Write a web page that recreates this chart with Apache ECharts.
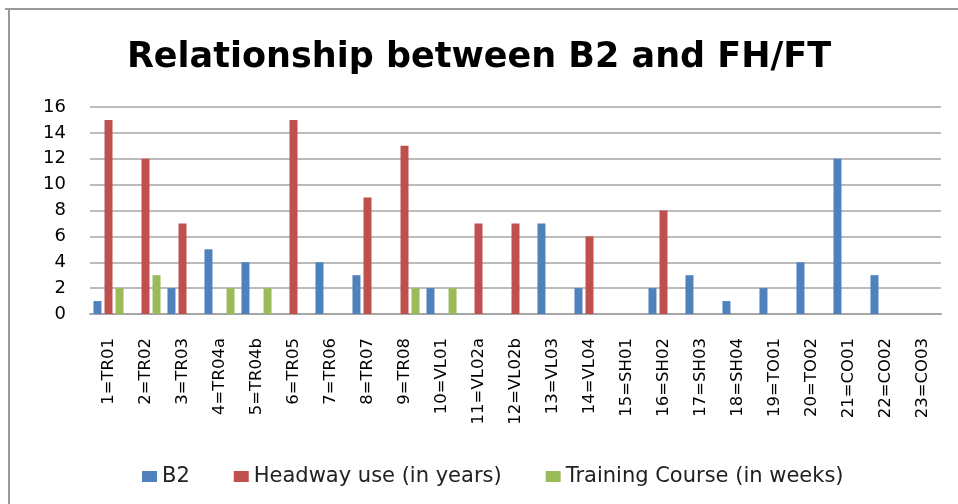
<!DOCTYPE html>
<html>
<head>
    <meta charset="UTF-8"/>
    <script type="text/javascript" src="https://cdn.jsdelivr.net/npm/echarts@6/dist/echarts.min.js"></script>
    <title>Relationship between B2 and FH/FT</title>
    <style>
        html, body { margin: 0; padding: 0; background: #fff; }
        #chart { width: 958px; height: 504px; }
    </style>
</head>
<body>
<div id="chart"></div>

<script type="application/javascript">
    var categories = ['1=TR01', '2=TR02', '3=TR03', '4=TR04a', '5=TR04b', '6=TR05', '7=TR06', '8=TR07',
        '9=TR08', '10=VL01', '11=VL02a', '12=VL02b', '13=VL03', '14=VL04', '15=SH01', '16=SH02',
        '17=SH03', '18=SH04', '19=TO01', '20=TO02', '21=CO01', '22=CO02', '23=CO03'];
    var b2 =       [1, 0, 2, 5, 4, 0, 4, 3, 0, 2, 0, 0, 7, 2, 0, 2, 3, 1, 2, 4, 12, 3, 0];
    var headway =  [15, 12, 7, 0, 0, 15, 0, 9, 13, 0, 7, 7, 0, 6, 0, 8, 0, 0, 0, 0, 0, 0, 0];
    var training = [2, 3, 0, 2, 2, 0, 0, 0, 2, 2, 0, 0, 0, 0, 0, 0, 0, 0, 0, 0, 0, 0, 0];
    var yTicks = [0, 2, 4, 6, 8, 10, 12, 14, 16];

    function initChart() {
        var myChart = echarts.init(document.getElementById('chart'));
        var option = {
            backgroundColor: '#fff',
            animation: false,
            title: {
                text: 'Relationship between B2 and FH/FT',
                left: 'center',
                top: 35,
                textStyle: {
                    fontFamily: 'DejaVu Sans',
                    fontWeight: 'bold',
                    fontSize: 35,
                    color: '#000'
                }
            },
            legend: {
                left: 137,
                top: 461,
                itemWidth: 15,
                itemHeight: 11,
                itemGap: 44,
                icon: 'rect',
                textStyle: {
                    fontFamily: 'DejaVu Sans',
                    fontSize: 21,
                    color: '#222'
                },
                data: ['B2', 'Headway use (in years)', 'Training Course (in weeks)']
            },
            grid: {
                left: 90,
                right: 17,
                top: 107,
                bottom: 190
            },
            xAxis: {
                type: 'category',
                data: categories,
                axisLine: { lineStyle: { color: '#a6a6a6', width: 2 } },
                axisTick: { show: false },
                axisLabel: {
                    rotate: 90,
                    interval: 0,
                    margin: 24,
                    fontFamily: 'DejaVu Sans',
                    fontSize: 16.5,
                    color: '#000'
                }
            },
            yAxis: {
                type: 'value',
                min: yTicks[0],
                max: yTicks[yTicks.length - 1],
                interval: 2,
                axisLine: { show: false },
                axisTick: { show: false },
                splitLine: { lineStyle: { color: '#a6a6a6', width: 1.5 } },
                axisLabel: {
                    margin: 24,
                    fontFamily: 'DejaVu Sans',
                    fontSize: 18,
                    color: '#000'
                }
            },
            series: [
                {
                    name: 'B2',
                    type: 'bar',
                    data: b2,
                    barWidth: 8,
                    barGap: '38%',
                    itemStyle: { color: '#4f81bd' }
                },
                {
                    name: 'Headway use (in years)',
                    type: 'bar',
                    data: headway,
                    barWidth: 8,
                    barGap: '38%',
                    itemStyle: { color: '#c0504d' }
                },
                {
                    name: 'Training Course (in weeks)',
                    type: 'bar',
                    data: training,
                    barWidth: 8,
                    barGap: '38%',
                    itemStyle: { color: '#9bbb59' }
                }
            ],
            graphic: [
                {
                    type: 'line',
                    shape: { x1: 5, y1: 9, x2: 958, y2: 9 },
                    style: { stroke: '#9a9a9a', lineWidth: 2 }
                },
                {
                    type: 'line',
                    shape: { x1: 9, y1: 9, x2: 9, y2: 504 },
                    style: { stroke: '#9a9a9a', lineWidth: 2 }
                }
            ]
        };
        myChart.setOption(option);
    }

    initChart();
</script>
</body>
</html>
